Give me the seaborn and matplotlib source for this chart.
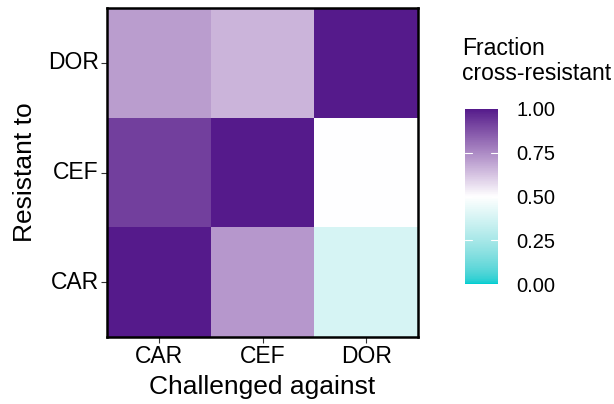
import numpy as np
import pandas as pd
import matplotlib
matplotlib.use("Agg")
import matplotlib.pyplot as plt
import seaborn as sns
from matplotlib.colors import ListedColormap

challenged = ["CAR", "CEF", "DOR"]
resistant = ["CAR", "CEF", "DOR"]
# rows: resistant to (CAR, CEF, DOR); columns: challenged against
frac_car = [1.00, 0.72, 0.38]
frac_cef = [0.92, 1.00, 0.50]
frac_dor = [0.71, 0.66, 1.00]
cbar_ticks = [0.00, 0.25, 0.50, 0.75, 1.00]

sns.set_theme(style="white")
plt.rcParams['font.family'] = ['Liberation Sans', 'DejaVu Sans']
plt.rcParams['text.color'] = 'black'
plt.rcParams['axes.labelcolor'] = 'black'

# --- Lab interpolation colormap (like ggplot2 scale_fill_gradient2) ---
def srgb_to_lin(c):
    c = np.asarray(c, float)
    return np.where(c <= 0.04045, c / 12.92, ((c + 0.055) / 1.055) ** 2.4)

def lin_to_srgb(c):
    c = np.asarray(c, float)
    return np.where(c <= 0.0031308, 12.92 * c, 1.055 * np.clip(c, 0, None) ** (1 / 2.4) - 0.055)

M = np.array([[0.4124, 0.3576, 0.1805], [0.2126, 0.7152, 0.0722], [0.0193, 0.1192, 0.9505]])
Minv = np.linalg.inv(M)
WHITE = M @ np.ones(3)

def f(t):
    d = 6 / 29
    return np.where(t > d ** 3, np.cbrt(t), t / (3 * d * d) + 4 / 29)

def finv(t):
    d = 6 / 29
    return np.where(t > d, t ** 3, 3 * d * d * (t - 4 / 29))

def rgb_to_lab(rgb):
    xyz = M @ srgb_to_lin(rgb) / WHITE
    fx, fy, fz = f(xyz)
    return np.array([116 * fy - 16, 500 * (fx - fy), 200 * (fy - fz)])

def lab_to_rgb(lab):
    L, a, b = lab
    fy = (L + 16) / 116
    fx = fy + a / 500
    fz = fy - b / 200
    xyz = np.array([finv(fx), finv(fy), finv(fz)]) * WHITE
    return np.clip(lin_to_srgb(Minv @ xyz), 0, 1)

low = np.array([0, 206, 209]) / 255.0   # darkturquoise
mid = np.array([1.0, 1.0, 1.0])
high = np.array([85, 26, 139]) / 255.0  # purple4
labs = [rgb_to_lab(low), rgb_to_lab(mid), rgb_to_lab(high)]
cols = []
N = 256
for i in range(N):
    v = i / (N - 1)
    if v <= 0.5:
        t = v / 0.5
        lab = labs[0] * (1 - t) + labs[1] * t
    else:
        t = (v - 0.5) / 0.5
        lab = labs[1] * (1 - t) + labs[2] * t
    cols.append(lab_to_rgb(lab))
cmap = ListedColormap(cols)

data = pd.DataFrame([frac_dor, frac_cef, frac_car],
                    index=resistant[::-1], columns=challenged)

fig = plt.figure(figsize=(6.14, 4.04), dpi=100)
ax = fig.add_axes([107 / 614, 1 - 337 / 404, 311 / 614, 329 / 404])
cax = fig.add_axes([465 / 614, 1 - 284 / 404, 33 / 614, 175 / 404])

sns.heatmap(data, ax=ax, cmap=cmap, vmin=0, vmax=1, cbar_ax=cax,
            cbar_kws={"ticks": cbar_ticks}, linewidths=0)

for s in ax.spines.values():
    s.set_visible(True)
    s.set_color("black")
    s.set_linewidth(1.8)

ax.tick_params(axis="both", which="both", length=4, width=0.8, color="#333333",
               labelsize=16.5, labelcolor="black", bottom=True, left=True, pad=2)
ax.set_yticklabels(data.index, rotation=0)
ax.set_xticklabels(data.columns, rotation=0)
ax.set_xlabel("Challenged against", fontsize=19, labelpad=5, color="black")
ax.set_ylabel("Resistant to", fontsize=19, labelpad=8, color="black")

cax.tick_params(length=0, labelsize=14.5, pad=13, labelcolor="black")
cax.set_yticklabels(["0.00", "0.25", "0.50", "0.75", "1.00"])
for s in cax.spines.values():
    s.set_visible(False)
for v in cbar_ticks[1:-1]:
    cax.plot([0, 0.2], [v, v], color="white", lw=0.8, transform=cax.get_yaxis_transform())
    cax.plot([0.8, 1.0], [v, v], color="white", lw=0.8, transform=cax.get_yaxis_transform())
fig.text(462 / 614, 1 - 61 / 404, "Fraction\ncross-resistant", fontsize=16.5,
         va="center", ha="left", linespacing=1.1, color="black")

fig.savefig("out.png", dpi=100)
